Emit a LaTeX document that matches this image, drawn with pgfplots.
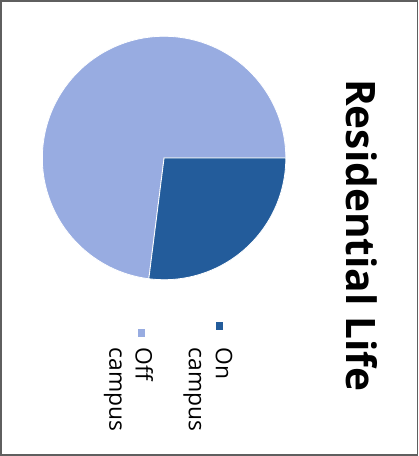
\documentclass[border=0pt]{standalone}
\usepackage{pgfplots}
\pgfplotsset{compat=1.18}
\usepackage{pgfplotstable}
\usepackage{fontspec}
\setmainfont{Open Sans}
\definecolor{oncampus}{RGB}{35,92,155}
\definecolor{offcampus}{RGB}{152,172,225}
\definecolor{framegray}{RGB}{95,95,95}
\pgfplotstableread{
label value
On 27
Off 73
}\piedata
\begin{document}
\begin{tikzpicture}
\pgfplotstablegetelem{0}{value}\of\piedata \pgfmathsetmacro{\vOn}{\pgfplotsretval}
\pgfplotstablegetelem{1}{value}\of\piedata \pgfmathsetmacro{\vOff}{\pgfplotsretval}
\pgfmathsetmacro{\total}{\vOn+\vOff}
\pgfmathsetmacro{\aOn}{-360*\vOn/\total}
\begin{axis}[x=1pt,y=1pt,xmin=0,xmax=417,ymin=0,ymax=456,hide axis,clip=false]
% pie (chart rotated 90 degrees clockwise)
\fill[offcampus, draw=white, line width=0.8pt] (axis cs:163,295) -- ++(\aOn:120pt) arc[start angle=\aOn, end angle=-360, radius=120pt] -- cycle;
\fill[oncampus, draw=white, line width=0.8pt] (axis cs:163,295) -- ++(0:120pt) arc[start angle=0, end angle=\aOn, radius=120pt] -- cycle;
% title
\node[rotate=-90, anchor=base west, inner sep=0, font=\fontsize{40}{48}\selectfont\bfseries] at (axis cs:343,373) {Residential Life};
% legend
\fill[oncampus] (axis cs:214,133) rectangle (axis cs:221,125);
\fill[offcampus] (axis cs:137,126) rectangle (axis cs:144,119);
\node[rotate=-90, anchor=base west, inner sep=0, font=\fontsize{22.5}{27}\selectfont] at (axis cs:214,108) {On};
\node[rotate=-90, anchor=base west, inner sep=0, font=\fontsize{22.5}{27}\selectfont] at (axis cs:187.5,108) {campus};
\node[rotate=-90, anchor=base west, inner sep=0, font=\fontsize{22.5}{27}\selectfont] at (axis cs:135,108) {Off};
\node[rotate=-90, anchor=base west, inner sep=0, font=\fontsize{22.5}{27}\selectfont] at (axis cs:109,108) {campus};
% frame
\draw[framegray, line width=1.5pt] (axis cs:2,2) rectangle (axis cs:413,450);
\end{axis}
\end{tikzpicture}
\end{document}
